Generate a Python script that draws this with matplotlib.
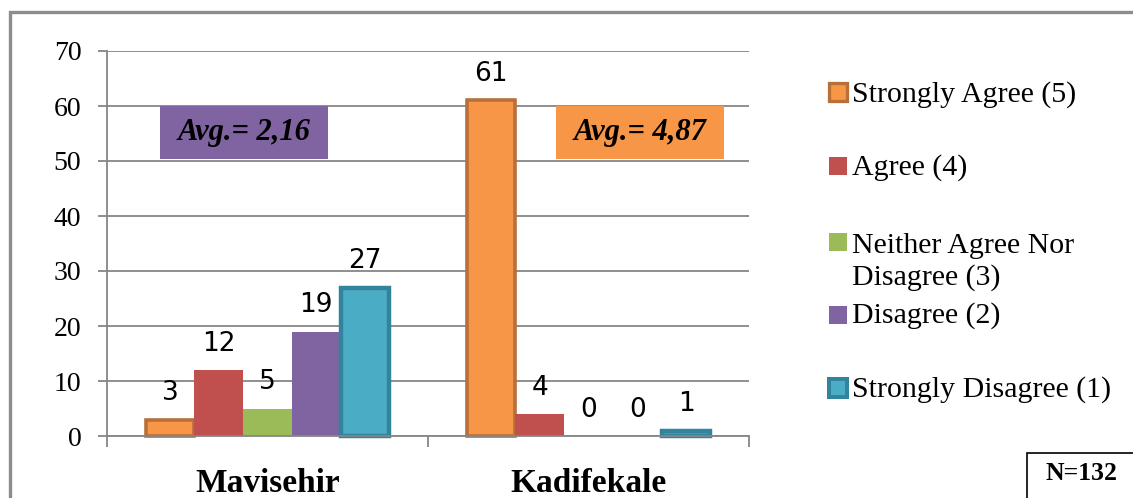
import matplotlib
matplotlib.use("Agg")
import matplotlib.pyplot as plt
from matplotlib.patches import Rectangle
import numpy as np

# Survey responses per neighbourhood
neighbourhoods = ["Mavisehir", "Kadifekale"]
responses = ["Strongly Agree (5)", "Agree (4)", "Neither Agree Nor\nDisagree (3)",
             "Disagree (2)", "Strongly Disagree (1)"]
mavisehir_counts = [3, 12, 5, 19, 27]
kadifekale_counts = [61, 4, 0, 0, 1]
averages = ["Avg.= 2,16", "Avg.= 4,87"]
sample_note = "N=132"
y_ticks = [0, 10, 20, 30, 40, 50, 60, 70]

fills = ["#F79646", "#C0504D", "#9BBB59", "#8064A2", "#4BACC6"]
edges = ["#B8703A", None, None, None, "#31849B"]
edge_widths = [2.6, 0, 0, 0, 3.2]
avg_colors = ["#8064A2", "#F79646"]

W, H = 1133, 498
fig = plt.figure(figsize=(W / 100, H / 100), dpi=100)
serif = "Liberation Serif"


def fx(px):
    return px / W


def fy(py):
    return 1 - py / H


ax = fig.add_axes([fx(107), fy(436), fx(749) - fx(107), fy(51) - fy(436)])

counts = np.array([mavisehir_counts, kadifekale_counts])
x = np.arange(len(neighbourhoods))
bw = 0.152
grid_color = "#868686"

for i in range(len(responses)):
    pos = x + (i - 2) * bw
    vals = counts[:, i]
    ax.bar(pos, vals, width=bw, color=fills[i],
           edgecolor=edges[i] if edges[i] else "none",
           linewidth=edge_widths[i], zorder=3, clip_on=False)
    for xp, v in zip(pos, vals):
        ax.annotate(str(v), (xp, v), xytext=(0, 14), textcoords="offset points",
                    ha="center", va="baseline", fontsize=19,
                    family="DejaVu Sans", color="black")

ax.set_ylim(0, 70)
ax.set_xlim(-0.5, 1.5)
ax.set_yticks(y_ticks)
ax.set_yticklabels([str(t) for t in y_ticks], family=serif, fontsize=20)
ax.yaxis.grid(True, color=grid_color, linewidth=1.3, zorder=0)
ax.set_axisbelow(True)
ax.tick_params(axis="y", length=6.5, width=1.3, color=grid_color, pad=12)

ax.set_xticks(x)
ax.set_xticklabels(neighbourhoods, family=serif, fontsize=24, fontweight="bold")
ax.set_xticks([-0.5, 0.5, 1.5], minor=True)
ax.tick_params(axis="x", which="major", length=0, pad=23)
ax.tick_params(axis="x", which="minor", length=8, width=1.3, color=grid_color)

for s in ["top", "right"]:
    ax.spines[s].set_visible(False)
ax.spines["left"].set_color(grid_color)
ax.spines["left"].set_linewidth(1.3)
ax.spines["bottom"].set_color(grid_color)
ax.spines["bottom"].set_linewidth(1.3)
ax.spines["bottom"].set_zorder(4)

# Average boxes
box_x = [-0.335, 0.899]
for bx, label, col in zip(box_x, averages, avg_colors):
    ax.add_patch(Rectangle((bx, 50.3), 0.523, 9.7, facecolor=col,
                           edgecolor="none", zorder=5))
    ax.text(bx + 0.523 / 2, 55.15, label, ha="center", va="center",
            family=serif, fontsize=22, fontweight="bold", style="italic",
            zorder=6)

# Legend: (text baseline of last line, handle top) in pixels from the top
legend_rows = [(102, 83), (175, 157), (285, 233), (323, 306), (397, 379)]
for i, (base, top) in enumerate(legend_rows):
    lw = edge_widths[i]
    fig.patches.append(Rectangle((fx(829), fy(top + 18)), fx(18), 18 / H,
                                 transform=fig.transFigure,
                                 facecolor=fills[i],
                                 edgecolor=edges[i] if edges[i] else "none",
                                 linewidth=lw * 0.9))
    fig.text(fx(852), fy(base), responses[i], ha="left", va="baseline",
             family=serif, fontsize=21.5, linespacing=1.25)

# Outer chart frame
fig.patches.append(Rectangle((fx(9.5), -0.1), 1.2, fy(12) + 0.1,
                             transform=fig.transFigure, facecolor="none",
                             edgecolor="#8C8C8C", linewidth=2.4))

# Sample size box
fig.patches.append(Rectangle((fx(1027), -0.1), 1.0, fy(453) + 0.1,
                             transform=fig.transFigure, facecolor="none",
                             edgecolor="black", linewidth=1.2))
fig.text(fx(1082), fy(473), sample_note, ha="center", va="center",
         family=serif, fontsize=18.5, fontweight="bold")

fig.savefig("out.png", dpi=100)
